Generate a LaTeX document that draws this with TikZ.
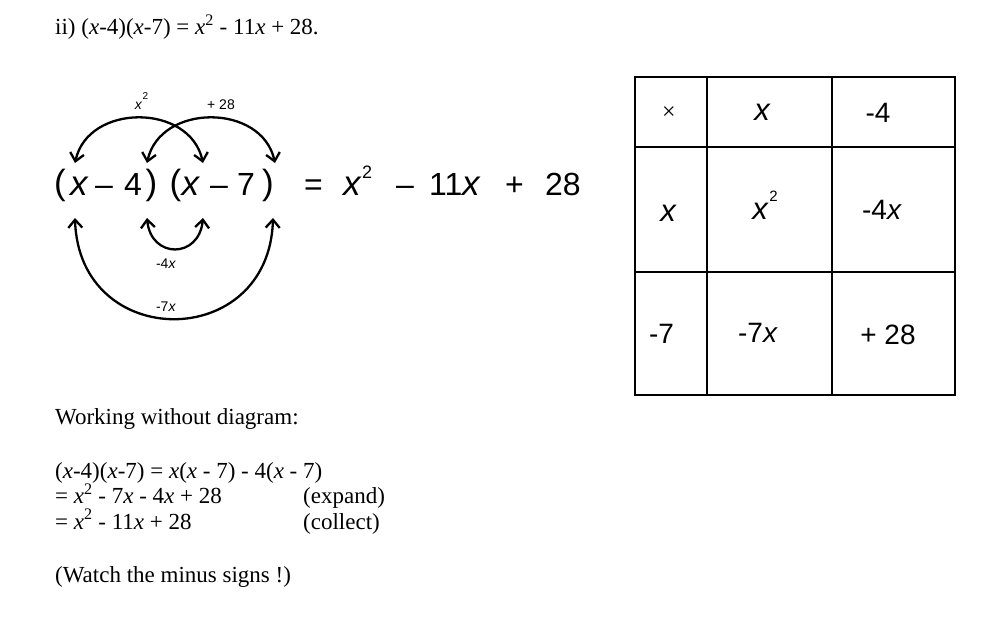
\documentclass[tikz,border=0pt]{standalone}
\usepackage{fontspec}
\setmainfont{Liberation Serif}
\newfontfamily\arial{Liberation Sans}
\usetikzlibrary{arrows.meta}
\begin{document}
\begin{tikzpicture}[x=1pt,y=-1pt,
  serif/.style={anchor=base west, inner sep=0pt, font=\fontsize{23}{27}\selectfont},
  big/.style={anchor=base west, inner sep=0pt, font=\arial\fontsize{32}{36}\selectfont},
  bigp/.style={anchor=base west, inner sep=0pt, font=\arial\fontsize{35}{38}\selectfont},
  bigx/.style={anchor=base west, inner sep=0pt, font=\arial\fontsize{35}{38}\selectfont\itshape},
  sup/.style={anchor=base west, inner sep=0pt, font=\arial\fontsize{18}{20}\selectfont},
  cell/.style={inner sep=0pt, font=\arial\fontsize{28}{32}\selectfont},
  cellx/.style={inner sep=0pt, font=\arial\fontsize{31}{34}\selectfont\itshape},
  times/.style={inner sep=0pt, font=\fontsize{24}{28}\selectfont},
  cellsup/.style={inner sep=0pt, font=\arial\fontsize{15}{17}\selectfont},
  lab/.style={inner sep=0pt, font=\arial\fontsize{14}{16}\selectfont},
  labsup/.style={inner sep=0pt, font=\arial\fontsize{10}{12}\selectfont},
  arcline/.style={line width=2.3pt, {Straight Barb[length=8pt,width=14pt]}-{Straight Barb[length=8pt,width=14pt]}},
  gridline/.style={line width=2pt}]
\useasboundingbox (0,0) rectangle (994,618);

% title
\node[serif] (title) at (55,35) {ii) (\textit{x}-4)(\textit{x}-7) = \textit{x}\textsuperscript{2} - 11\textit{x} + 28.};

% left expression
\node[bigp] (p1) at (54,194) {(};
\node[bigx] (x1) at (70,195) {x};
\node[big]  (m1) at (95,195) {–};
\node[big]  (d4) at (124,195) {4};
\node[bigp] (q1) at (145.5,194) {)};
\node[bigp] (p2) at (169.5,194) {(};
\node[bigx] (x2) at (181.5,195) {x};
\node[big]  (m2) at (210,195) {–};
\node[big]  (d7) at (237,195) {7};
\node[bigp] (q2) at (262,194) {)};

% right expression
\node[big]  (eq) at (304,195) {=};
\node[bigx] (rx) at (343,195) {x};
\node[sup]  (r2) at (362,178) {2};
\node[big]  (rm) at (396,195) {–};
\node[big]  (r11) at (429,195) {11};
\node[bigx] (r11x) at (462,195) {x};
\node[big]  (rp) at (505,195) {+};
\node[big]  (r28) at (545,195) {28};

% arrow end points
\coordinate (t1) at (75,163);
\coordinate (t2) at (147,163);
\coordinate (t3) at (203,163);
\coordinate (t4) at (275,163);
\coordinate (b1) at (75,218);
\coordinate (b2) at (147,218);
\coordinate (b3) at (203,218);
\coordinate (b4) at (273,218);

\draw[arcline] (t1) .. controls (88,103) and (190,103) .. (t3);
\draw[arcline] (t2) .. controls (160,103) and (262,103) .. (t4);
\draw[arcline] (b2) .. controls (151,259) and (199,259) .. (b3);
\draw[arcline] (b1) .. controls (79,352) and (269,352) .. (b4);

% arc labels
\node[lab] (lx) at (138.5,106) {\textit{x}};
\node[labsup] (l2) at (145.5,96.5) {2};
\node[lab] (l28) at (221,105) {+ 28};
\node[lab] (l4x) at (166,264) {-4\textit{x}};
\node[lab] (l7x) at (166,307) {-7\textit{x}};

% table
\draw[gridline] (635,77) rectangle (955,395);
\draw[gridline] (707,77) -- (707,395);
\draw[gridline] (832,77) -- (832,395);
\draw[gridline] (635,147) -- (955,147);
\draw[gridline] (635,272) -- (955,272);

\node[times] (c11) at (669,113) {×};
\node[cellx] (c12) at (762,112) {x};
\node[cell] (c13) at (878,113) {-4};
\node[cellx] (c21) at (668,213) {x};
\node[cellx] (c22) at (760,211) {x};
\node[cellsup] (c22s) at (773.5,196) {2};
\node[cell] (c23) at (882,210) {-4\textit{x}};
\node[cell] (c31) at (661.5,334) {-7};
\node[cell] (c32) at (758,333) {-7\textit{x}};
\node[cell] (c33) at (888,335) {+ 28};

% working
\node[serif] (w0) at (55,424) {Working without diagram:};
\node[serif] (w1) at (55,478) {(\textit{x}-4)(\textit{x}-7) = \textit{x}(\textit{x} - 7) - 4(\textit{x} - 7)};
\node[serif] (w2) at (55,503.5) {= \textit{x}\textsuperscript{2} - 7\textit{x} - 4\textit{x} + 28};
\node[serif] (w2r) at (303,503.5) {(expand)};
\node[serif] (w3) at (55,529) {= \textit{x}\textsuperscript{2} - 11\textit{x} + 28};
\node[serif] (w3r) at (303,529) {(collect)};
\node[serif] (w4) at (55,582) {(Watch the minus signs !)};
\end{tikzpicture}
\end{document}
